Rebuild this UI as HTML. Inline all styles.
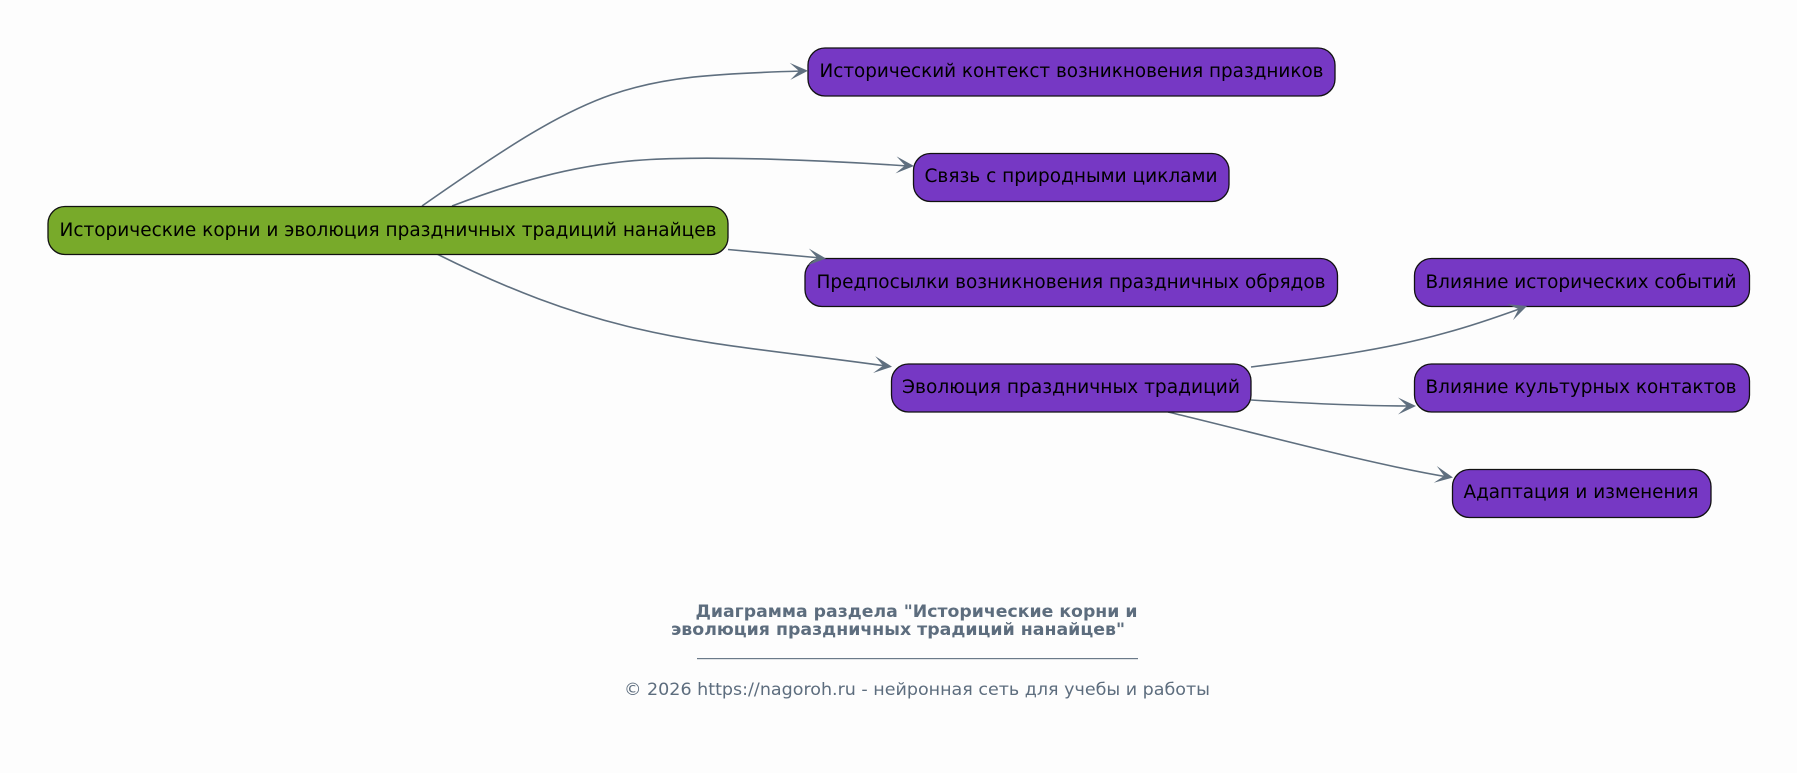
<!DOCTYPE html>
<html><head><meta charset="utf-8"><style>
html,body{margin:0;padding:0;background:#fdfdfd}
svg{display:block}
text{font-family:"DejaVu Sans",sans-serif}
.n{fill:#7638c4;stroke:#111;stroke-width:1.3}
.t{font-size:18.5px;fill:#000}
.e{fill:none;stroke:#5f6f7f;stroke-width:1.6}
.a{fill:#5f6f7f}
.c{fill:#5d6d7e}
</style></head><body>
<svg width="1797" height="773" viewBox="0 0 1797 773" xmlns="http://www.w3.org/2000/svg">
<rect width="1797" height="773" fill="#fdfdfd"/>
<defs><path id="ah" d="M0,0 L-18,-8.500 L-9,0 L-18,8.500 Z"/></defs>

<path class="e" d="M422,206 C597,83.500 627,76.250 802,71"/>
<path class="e" d="M452,206 C505,186 570,164 650,159.500 C715,156 820,160 908,166"/>
<path class="e" d="M728,249.500 L821,258"/>
<path class="e" d="M437,254 C615,343 708,341 886,366"/>
<path class="e" d="M1251,367 C1315,359 1385,350 1445,333 C1475,325 1500,316 1522,308"/>
<path class="e" d="M1251,400 C1300,403 1360,406 1410,406"/>
<path class="e" d="M1168,412 C1260,434 1370,464 1448,477"/>

<rect class="n" style="fill:#78aa2a" x="48" y="206.500" width="680" height="48" rx="17"/>
<rect class="n" x="808" y="48" width="527" height="48" rx="17"/>
<rect class="n" x="913.500" y="153.500" width="315.500" height="48" rx="17"/>
<rect class="n" x="805" y="258.500" width="532.500" height="48" rx="17"/>
<rect class="n" x="891.500" y="364" width="359.500" height="48" rx="17"/>
<rect class="n" x="1414.500" y="258.500" width="335" height="48" rx="17"/>
<rect class="n" x="1414.500" y="364" width="335" height="48" rx="17"/>
<rect class="n" x="1452.500" y="469.500" width="258.500" height="48" rx="17"/>

<use href="#ah" class="a" transform="translate(808,70.700) rotate(-2)"/>
<use href="#ah" class="a" transform="translate(914,166) rotate(3.500)"/>
<use href="#ah" class="a" transform="translate(826,258.500) rotate(5)"/>
<use href="#ah" class="a" transform="translate(892,366.700) rotate(7)"/>
<use href="#ah" class="a" transform="translate(1527,306) rotate(-20)"/>
<use href="#ah" class="a" transform="translate(1416,406) rotate(0)"/>
<use href="#ah" class="a" transform="translate(1453,477.500) rotate(10)"/>

<text class="t" x="59.500" y="236" textLength="657" lengthAdjust="spacingAndGlyphs">Исторические корни и эволюция праздничных традиций нанайцев</text>
<text class="t" x="819.500" y="77" textLength="504" lengthAdjust="spacingAndGlyphs">Исторический контекст возникновения праздников</text>
<text class="t" x="924.500" y="182" textLength="293" lengthAdjust="spacingAndGlyphs">Связь с природными циклами</text>
<text class="t" x="816.500" y="288" textLength="509" lengthAdjust="spacingAndGlyphs">Предпосылки возникновения праздничных обрядов</text>
<text class="t" x="902" y="393" textLength="338" lengthAdjust="spacingAndGlyphs">Эволюция праздничных традиций</text>
<text class="t" x="1425.500" y="288" textLength="311" lengthAdjust="spacingAndGlyphs">Влияние исторических событий</text>
<text class="t" x="1425.500" y="393" textLength="311" lengthAdjust="spacingAndGlyphs">Влияние культурных контактов</text>
<text class="t" x="1463.500" y="498" textLength="235" lengthAdjust="spacingAndGlyphs">Адаптация и изменения</text>

<text class="c" x="695.500" y="617" font-size="16.800" font-weight="700" textLength="442" lengthAdjust="spacingAndGlyphs">Диаграмма раздела "Исторические корни и</text>
<text class="c" x="671" y="635" font-size="16.800" font-weight="700" textLength="454" lengthAdjust="spacingAndGlyphs">эволюция праздничных традиций нанайцев"</text>
<rect x="697" y="658" width="441" height="1.200" fill="#6b7a89"/>
<text class="c" x="624" y="695" font-size="16.800" textLength="586" lengthAdjust="spacingAndGlyphs">© 2026 https://nagoroh.ru - нейронная сеть для учебы и работы</text>
</svg>
</body></html>
